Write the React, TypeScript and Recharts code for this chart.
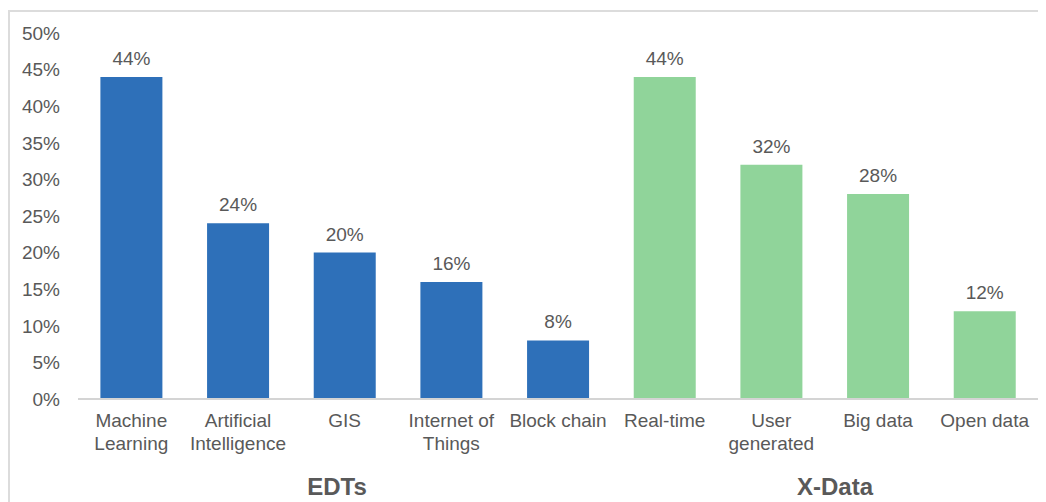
import React from 'react';
import { BarChart, Bar, XAxis, YAxis, Cell, LabelList } from 'recharts';

const categories = [
  'Machine\nLearning',
  'Artificial\nIntelligence',
  'GIS',
  'Internet of\nThings',
  'Block chain',
  'Real-time',
  'User\ngenerated',
  'Big data',
  'Open data',
];
const values = [44, 24, 20, 16, 8, 44, 32, 28, 12];
const groupOf = ['EDTs', 'EDTs', 'EDTs', 'EDTs', 'EDTs', 'X-Data', 'X-Data', 'X-Data', 'X-Data'];
const groupLabels = ['EDTs', 'X-Data'];
const groupColors: Record<string, string> = { EDTs: '#2E70B9', 'X-Data': '#90D49A' };
const yTicks = [0, 5, 10, 15, 20, 25, 30, 35, 40, 45, 50];

const data = categories.map((c, i) => ({ name: c, value: values[i], group: groupOf[i] }));

const FONT = '"Liberation Sans", Arial, Helvetica, sans-serif';
const TEXT = '#595959';

const XTick = (props: any) => {
  const { x, y, payload } = props;
  const lines = String(payload.value).split('\n');
  return (
    <text x={x} y={y + 28} textAnchor="middle" fill={TEXT} fontSize={19} fontFamily={FONT}>
      {lines.map((l, i) => (
        <tspan key={i} x={x} dy={i === 0 ? 0 : 22.5}>
          {l}
        </tspan>
      ))}
    </text>
  );
};

const W = 1038;
const H = 494;

export default function App() {
  return (
    <div style={{ position: 'relative', width: W, height: H, fontFamily: FONT }}>
      <div
        style={{
          position: 'absolute',
          left: 0,
          top: 2,
          right: 0,
          bottom: 0,
          borderTop: '2px solid #dcdcdc',
          borderLeft: '2px solid #dcdcdc',
        }}
      />
      <div style={{ position: 'absolute', left: 0, top: 0 }}>
        <BarChart
          width={W}
          height={H}
          data={data}
          margin={{ top: 25, right: 8, left: 0, bottom: 0 }}
          barCategoryGap="21%"
        >
          <XAxis
            dataKey="name"
            axisLine={{ stroke: '#d4d4d4', strokeWidth: 2 }}
            tickLine={false}
            tickSize={0}
            tickMargin={0}
            height={103}
            interval={0}
            tick={<XTick />}
          />
          <YAxis
            width={70}
            domain={[0, 50]}
            ticks={yTicks}
            axisLine={false}
            tickLine={false}
            tickSize={0}
            tickMargin={18}
            tickFormatter={(v: number) => `${v}%`}
            tick={{ fill: TEXT, fontSize: 19, fontFamily: FONT }}
          />
          <Bar dataKey="value" isAnimationActive={false}>
            {data.map((d, i) => (
              <Cell key={i} fill={groupColors[d.group]} />
            ))}
            <LabelList
              dataKey="value"
              position="top"
              offset={12}
              formatter={(v: any) => `${v}%`}
              fill={TEXT}
              fontSize={19}
              fontFamily={FONT}
            />
          </Bar>
        </BarChart>
      </div>
      <svg width={W} height={H} style={{ position: 'absolute', left: 0, top: 0, pointerEvents: 'none' }}>
        <text x={329} y={487} textAnchor="middle" fontWeight="bold" fontSize={24} fill={TEXT} fontFamily={FONT}>
          {groupLabels[0]}
        </text>
        <text x={827} y={487} textAnchor="middle" fontWeight="bold" fontSize={24} fill={TEXT} fontFamily={FONT}>
          {groupLabels[1]}
        </text>
      </svg>
    </div>
  );
}
